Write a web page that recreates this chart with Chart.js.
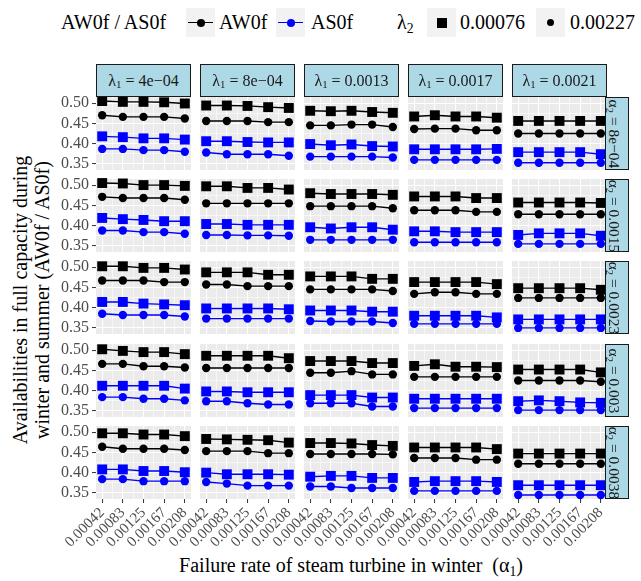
<!DOCTYPE html>
<html>
<head>
<meta charset="utf-8">
<script src="https://cdn.jsdelivr.net/npm/chart.js@4.4.1/dist/chart.umd.min.js"></script>
<style>
  html, body { margin: 0; padding: 0; background: #ffffff; }
  body { position: relative; width: 641px; height: 581px; overflow: hidden;
         font-family: "Liberation Serif", "DejaVu Serif", serif; color: #000; }
  canvas { position: absolute; }
  .txt { position: absolute; white-space: nowrap; line-height: 1; }
  .sub { font-size: 68%; position: relative; top: 0.3em; }
  .key { position: absolute; background: #f2f2f2; }
  .strip-top { position: absolute; box-sizing: border-box; background: #add8e6;
               border: 1.3px solid #1a1a1a; display: flex; align-items: center;
               justify-content: center; font-size: 16px; color: #1a1a1a; white-space: nowrap; z-index: 5; }
  .strip-right { position: absolute; box-sizing: border-box; background: #add8e6;
                 border: 1.3px solid #1a1a1a; overflow: hidden; z-index: 5; }
  .strip-right > .rot { position: absolute; left: 50%; top: 50%; white-space: nowrap; font-size: 15.5px;
                        color: #1a1a1a; transform: translate(-50%, -50%) rotate(90deg) translateY(2.5px); line-height: 1; }
</style>
</head>
<body>
<script>
// Facet labels and axis categories
const xTickLabels   = ['0.00042', '0.00083', '0.00125', '0.00167', '0.00208'];
const lambda1Labels = ['4e\u221204', '8e\u221204', '0.0013', '0.0017', '0.0021'];
const alpha2Labels  = ['8e\u221204', '0.0015', '0.0023', '0.003', '0.0038'];
const seriesNames   = ['AW0f', 'AS0f'];
const lambda2Labels = ['0.00076', '0.00227'];
const yMajorTicks   = [0.35, 0.40, 0.45, 0.50];

// Availabilities; outer index = alpha2 row, next = lambda1 column, inner = alpha1 values
const aw0f_l2a = [
  [[0.505,0.503,0.503,0.502,0.499],[0.494,0.494,0.493,0.490,0.488],[0.481,0.480,0.481,0.478,0.476],[0.467,0.470,0.467,0.467,0.464],[0.456,0.456,0.456,0.456,0.456]],
  [[0.505,0.504,0.500,0.500,0.498],[0.497,0.497,0.493,0.493,0.489],[0.480,0.478,0.478,0.478,0.476],[0.472,0.472,0.472,0.468,0.468],[0.457,0.457,0.457,0.457,0.456]],
  [[0.502,0.502,0.498,0.498,0.494],[0.487,0.487,0.487,0.481,0.481],[0.477,0.477,0.477,0.471,0.471],[0.463,0.463,0.463,0.463,0.458],[0.448,0.448,0.448,0.448,0.444]],
  [[0.502,0.498,0.495,0.495,0.490],[0.486,0.486,0.486,0.486,0.480],[0.473,0.473,0.473,0.468,0.468],[0.461,0.465,0.459,0.459,0.458],[0.452,0.452,0.452,0.452,0.445]],
  [[0.497,0.497,0.494,0.494,0.490],[0.483,0.482,0.481,0.480,0.474],[0.473,0.473,0.472,0.468,0.466],[0.462,0.462,0.462,0.462,0.458],[0.447,0.447,0.447,0.447,0.447]]
];
const aw0f_l2b = [
  [[0.470,0.466,0.466,0.466,0.462],[0.456,0.456,0.456,0.453,0.453],[0.445,0.445,0.447,0.447,0.441],[0.436,0.437,0.437,0.433,0.433],[0.425,0.425,0.425,0.425,0.425]],
  [[0.471,0.468,0.468,0.468,0.464],[0.455,0.455,0.455,0.455,0.455],[0.448,0.448,0.448,0.448,0.443],[0.438,0.438,0.438,0.434,0.434],[0.428,0.428,0.428,0.428,0.428]],
  [[0.467,0.467,0.467,0.463,0.463],[0.457,0.457,0.453,0.453,0.453],[0.445,0.445,0.445,0.445,0.441],[0.434,0.438,0.438,0.434,0.434],[0.424,0.424,0.424,0.424,0.424]],
  [[0.466,0.466,0.460,0.460,0.457],[0.456,0.456,0.456,0.456,0.456],[0.444,0.444,0.448,0.440,0.440],[0.434,0.434,0.434,0.434,0.434],[0.425,0.425,0.425,0.425,0.422]],
  [[0.464,0.459,0.459,0.459,0.456],[0.453,0.453,0.453,0.448,0.448],[0.446,0.446,0.446,0.446,0.445],[0.436,0.436,0.436,0.432,0.432],[0.422,0.422,0.422,0.422,0.422]]
];
const as0f_l2a = [
  [[0.418,0.416,0.413,0.413,0.410],[0.406,0.406,0.404,0.403,0.403],[0.399,0.396,0.398,0.394,0.393],[0.386,0.386,0.386,0.386,0.387],[0.379,0.379,0.379,0.379,0.374]],
  [[0.419,0.416,0.414,0.411,0.411],[0.404,0.404,0.402,0.402,0.402],[0.396,0.393,0.396,0.396,0.390],[0.386,0.386,0.384,0.384,0.384],[0.377,0.381,0.381,0.381,0.375]],
  [[0.414,0.414,0.410,0.408,0.406],[0.398,0.398,0.398,0.398,0.396],[0.393,0.393,0.393,0.390,0.390],[0.380,0.380,0.380,0.380,0.376],[0.371,0.371,0.371,0.371,0.371]],
  [[0.412,0.412,0.412,0.412,0.405],[0.398,0.398,0.396,0.396,0.396],[0.389,0.389,0.389,0.383,0.383],[0.380,0.380,0.380,0.380,0.380],[0.374,0.376,0.374,0.371,0.370]],
  [[0.408,0.408,0.404,0.404,0.401],[0.400,0.396,0.396,0.396,0.395],[0.390,0.392,0.392,0.387,0.387],[0.377,0.379,0.379,0.379,0.377],[0.369,0.369,0.369,0.369,0.369]]
];
const as0f_l2b = [
  [[0.387,0.387,0.384,0.384,0.380],[0.378,0.374,0.374,0.374,0.370],[0.368,0.368,0.368,0.368,0.366],[0.360,0.360,0.360,0.360,0.360],[0.353,0.353,0.353,0.353,0.353]],
  [[0.388,0.388,0.384,0.384,0.380],[0.377,0.377,0.376,0.376,0.375],[0.365,0.365,0.365,0.365,0.365],[0.359,0.359,0.359,0.359,0.359],[0.355,0.355,0.355,0.355,0.355]],
  [[0.385,0.382,0.382,0.382,0.378],[0.373,0.373,0.373,0.373,0.373],[0.367,0.366,0.366,0.366,0.362],[0.360,0.360,0.360,0.360,0.360],[0.350,0.350,0.350,0.350,0.350]],
  [[0.384,0.384,0.380,0.380,0.376],[0.374,0.374,0.369,0.366,0.366],[0.369,0.369,0.369,0.361,0.361],[0.357,0.357,0.357,0.357,0.357],[0.352,0.352,0.352,0.352,0.352]],
  [[0.384,0.384,0.379,0.379,0.379],[0.377,0.373,0.368,0.368,0.368],[0.366,0.366,0.362,0.362,0.362],[0.355,0.355,0.355,0.355,0.355],[0.345,0.345,0.345,0.345,0.345]]
];

// Panel grid geometry
const PANEL_LEFT = [96, 200, 304, 408, 512];
const PANEL_TOP  = [97, 179, 261, 344, 426];
const PANEL_W = 95, PANEL_H = 73;
const PAD_L = 60, PAD_T = 8, PAD_R = 8, PAD_B = 80;
const Y_MIN = 0.335, Y_MAX = 0.515;
const X_MIN = 0.7, X_MAX = 5.3;

const SERIF = "'Liberation Serif', 'DejaVu Serif', serif";
Chart.defaults.font.family = SERIF;
const isMajorY = v => Math.abs(v * 20 - Math.round(v * 20)) < 1e-6;
const isMajorX = v => Math.abs(v - Math.round(v)) < 1e-6;

const panelBackground = {
  id: 'panelBackground',
  beforeDraw(chart) {
    const a = chart.chartArea, ctx = chart.ctx;
    ctx.save();
    ctx.fillStyle = '#ebebeb';
    ctx.fillRect(a.left, a.top, a.right - a.left, a.bottom - a.top);
    ctx.restore();
  }
};

function points(values) {
  return values.map((v, i) => ({ x: i + 1, y: v }));
}

function series(values, color, shape) {
  return {
    data: points(values),
    borderColor: color,
    backgroundColor: color,
    borderWidth: 1.4,
    pointStyle: shape,
    pointRadius: shape === 'rect' ? 7 : 4.2,
    pointBackgroundColor: color,
    pointBorderColor: color,
    pointBorderWidth: 0,
    tension: 0,
    fill: false,
    clip: false
  };
}

function makePanel(r, c) {
  const cv = document.createElement('canvas');
  const w = PAD_L + PANEL_W + PAD_R, h = PAD_T + PANEL_H + PAD_B;
  cv.width = w; cv.height = h;
  cv.style.left = (PANEL_LEFT[c] - PAD_L) + 'px';
  cv.style.top = (PANEL_TOP[r] - PAD_T) + 'px';
  cv.style.width = w + 'px'; cv.style.height = h + 'px';
  document.body.appendChild(cv);

  const showX = r === 4, showY = c === 0;

  new Chart(cv, {
    type: 'line',
    data: {
      datasets: [
        series(aw0f_l2a[r][c], '#000000', 'rect'),
        series(aw0f_l2b[r][c], '#000000', 'circle'),
        series(as0f_l2a[r][c], '#0000ff', 'rect'),
        series(as0f_l2b[r][c], '#0000ff', 'circle')
      ]
    },
    options: {
      responsive: false,
      animation: false,
      devicePixelRatio: 1,
      events: [],
      layout: { padding: { top: PAD_T, right: PAD_R, left: 0, bottom: 0 } },
      plugins: { legend: { display: false }, tooltip: { enabled: false } },
      scales: {
        x: {
          type: 'linear', min: X_MIN, max: X_MAX,
          afterBuildTicks: s => { s.ticks = [1, 1.5, 2, 2.5, 3, 3.5, 4, 4.5, 5].map(v => ({ value: v })); },
          afterFit: s => { s.height = PAD_B; s.paddingLeft = 0; s.paddingRight = 0; },
          border: { display: false },
          grid: {
            color: '#ffffff',
            lineWidth: ctx => isMajorX(ctx.tick.value) ? 1.1 : 0.55,
            drawTicks: showX,
            tickLength: 4,
            tickWidth: 1,
            tickColor: ctx => isMajorX(ctx.tick.value) ? '#333333' : 'rgba(0,0,0,0)'
          },
          ticks: {
            display: showX, autoSkip: false, maxRotation: 45, minRotation: 45, padding: 1,
            color: '#4d4d4d', font: { family: SERIF, size: 15 },
            callback: v => isMajorX(v) ? xTickLabels[Math.round(v) - 1] : ''
          }
        },
        y: {
          type: 'linear', min: Y_MIN, max: Y_MAX,
          afterBuildTicks: s => { s.ticks = [0.35, 0.375, 0.40, 0.425, 0.45, 0.475, 0.50].map(v => ({ value: v })); },
          afterFit: s => { s.width = PAD_L; s.paddingTop = 0; s.paddingBottom = 0; },
          border: { display: false },
          grid: {
            color: '#ffffff',
            lineWidth: ctx => isMajorY(ctx.tick.value) ? 1.1 : 0.55,
            drawTicks: showY,
            tickLength: 4,
            tickWidth: 1,
            tickColor: ctx => isMajorY(ctx.tick.value) ? '#333333' : 'rgba(0,0,0,0)'
          },
          ticks: {
            display: showY, autoSkip: false, padding: 3,
            color: '#4d4d4d', font: { family: SERIF, size: 16 },
            callback: v => isMajorY(v) ? yMajorTicks.find(t => Math.abs(t - v) < 1e-6).toFixed(2) : ''
          }
        }
      }
    },
    plugins: [panelBackground]
  });
}

function drawPanels() {
  for (let r = 0; r < 5; r++) for (let c = 0; c < 5; c++) makePanel(r, c);
}

// Facet strips
function addDiv(cls, html, style) {
  const d = document.createElement('div');
  d.className = cls;
  d.innerHTML = html;
  Object.assign(d.style, style);
  document.body.appendChild(d);
  return d;
}
lambda1Labels.forEach((lab, c) => {
  addDiv('strip-top', '\u03bb<span class="sub">1</span>&nbsp;=&nbsp;' + lab,
    { left: PANEL_LEFT[c] + 'px', top: '64px', width: PANEL_W + 'px', height: (PANEL_TOP[0] - 64) + 'px' });
});
alpha2Labels.forEach((lab, r) => {
  addDiv('strip-right', '<span class="rot">\u03b1<span class="sub">2</span>&nbsp;=&nbsp;' + lab + '</span>',
    { left: '605px', top: PANEL_TOP[r] + 'px', width: '24px', height: PANEL_H + 'px' });
});

// Axis titles
addDiv('txt', 'Availabilities in full capacity during<br>winter and summer (AW0f / AS0f)', {
  left: (31 - 200) + 'px', top: (300 - 22) + 'px', width: '400px', height: '44px',
  fontSize: '20px', lineHeight: '22px', textAlign: 'center', transform: 'rotate(-90deg)'
});
addDiv('txt', 'Failure rate of steam turbine in winter&nbsp;&nbsp;(\u03b1<span class="sub">1</span>)', {
  left: '151px', top: '555px', width: '400px', textAlign: 'center', fontSize: '20px'
});

// Legend
const LEG_Y = 22;
function legendText(html, x) {
  addDiv('txt', html, { left: x + 'px', top: (LEG_Y - 10) + 'px', fontSize: '20px', lineHeight: '20px' });
}
function legendKey(x, color, line, marker) {
  const k = addDiv('key', '', { left: x + 'px', top: (LEG_Y - 14) + 'px', width: '29px', height: '29px' });
  if (line) {
    const l = document.createElement('div');
    Object.assign(l.style, { position: 'absolute', left: '2px', right: '2px', top: '13.8px', height: '1.4px', background: color });
    k.appendChild(l);
  }
  const m = document.createElement('div');
  const s = marker === 'rect' ? 10 : (line ? 8 : 7);
  Object.assign(m.style, { position: 'absolute', left: (14.5 - s / 2) + 'px', top: (14.5 - s / 2) + 'px',
    width: s + 'px', height: s + 'px', background: color, borderRadius: marker === 'rect' ? '0' : '50%' });
  k.appendChild(m);
}
legendText(seriesNames.join(' / '), 61);
legendKey(186, '#000000', true, 'circle');
legendText(seriesNames[0], 219);
legendKey(276, '#0000ff', true, 'circle');
legendText(seriesNames[1], 311);
legendText('\u03bb<span class="sub">2</span>', 397);
legendKey(427, '#000000', false, 'rect');
legendText(lambda2Labels[0], 460);
legendKey(536, '#000000', false, 'circle');
legendText(lambda2Labels[1], 570);

// Make sure the serif face is ready before the canvases render their tick labels
if (document.fonts && document.fonts.load) {
  Promise.all([
    document.fonts.load("15px 'Liberation Serif'"),
    document.fonts.load("16px 'Liberation Serif'")
  ]).then(drawPanels, drawPanels);
} else {
  drawPanels();
}
</script>
</body>
</html>
